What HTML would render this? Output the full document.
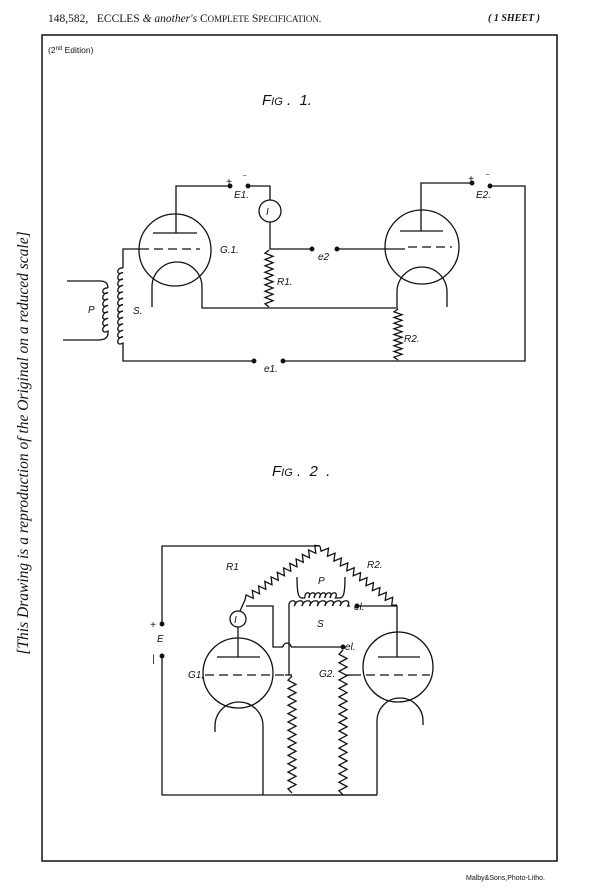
<!DOCTYPE html>
<html><head><meta charset="utf-8"><style>
html,body{margin:0;padding:0;background:#fff}
svg{display:block}
text{font-family:"Liberation Sans",sans-serif;fill:#111}
.h{font-family:"Liberation Serif",serif}
.lab{font-style:italic;font-size:10px}
</style></head><body>
<svg id="s" width="600" height="889" viewBox="0 0 600 889" xmlns="http://www.w3.org/2000/svg" fill="none" stroke="#111" stroke-width="1.3">
<text class="h" x="48" y="22" font-size="11.5" stroke="none">148,582,&#160;&#160; ECCLES <tspan font-style="italic">&amp; another's</tspan> C<tspan font-size="9">OMPLETE</tspan> S<tspan font-size="9">PECIFICATION.</tspan></text>
<text class="h" x="488" y="21" font-size="10" font-style="italic" font-weight="bold" stroke="none">( 1 SHEET )</text>
<rect x="42" y="35" width="515" height="826" stroke-width="1.5"/>
<text x="48" y="53" font-size="8.5" stroke="none">(2<tspan font-size="6" dy="-3">nd</tspan><tspan dy="3"> Edition)</tspan></text>
<text class="h" x="0" y="0" font-size="15.5" font-style="italic" stroke="none" transform="translate(28,443) rotate(-90)" text-anchor="middle">[This Drawing is a reproduction of the Original on a reduced scale]</text>
<text x="466" y="880" font-size="7" stroke="none">Malby&amp;Sons,Photo-Litho.</text>
<text x="262" y="105" font-size="15" font-style="italic" stroke="none">F<tspan font-size="11">IG</tspan> .&#160; 1.</text>
<text x="272" y="476" font-size="15" font-style="italic" stroke="none">F<tspan font-size="11">IG</tspan> .&#160; 2&#160; .</text>
<g id="d"></g>
</svg>
<script>
var d=document.getElementById('d'),h='';
function L(p){h+='<polyline points="'+p+'"/>';}
function C(x,y,r){h+='<circle cx="'+x+'" cy="'+y+'" r="'+r+'"/>';}
function dash(x1,x2,y){h+='<line x1="'+x1+'" y1="'+y+'" x2="'+x2+'" y2="'+y+'" stroke-dasharray="9,5"/>';}
function arc(cx,top,r,bot){h+='<path d="M'+(cx-r)+','+bot+' V'+(top+r)+' A'+r+','+r+' 0 0 1 '+(cx+r)+','+(top+r)+' V'+bot+'"/>';}
function zz(x1,y1,x2,y2,n,a){var dx=x2-x1,dy=y2-y1,l=Math.hypot(dx,dy),nx=-dy/l,ny=dx/l,p=x1+','+y1;for(var i=1;i<2*n;i++){var t=i/(2*n),s=(i%2?1:-1)*a;p+=' '+(x1+dx*t+nx*s).toFixed(1)+','+(y1+dy*t+ny*s).toFixed(1);}p+=' '+x2+','+y2;L(p);}
function coilV(x,y1,y2,n,dir){var st=(y2-y1)/n,p='M'+x+','+y1;for(var i=0;i<n;i++){var y=y1+i*st;p+=' C'+(x+dir*7)+','+(y-1)+' '+(x+dir*7)+','+(y+st+2)+' '+x+','+(y+st*0.7)+' ';}p+='L'+x+','+y2;h+='<path d="'+p+'"/>';}
function coilH(x1,x2,y,n,dir){var st=(x2-x1)/n,p='M'+x1+','+y;for(var i=0;i<n;i++){var x=x1+i*st;p+=' C'+(x-1)+','+(y+dir*7)+' '+(x+st+2)+','+(y+dir*7)+' '+(x+st*0.7)+','+y;}p+=' L'+x2+','+y;h+='<path d="'+p+'"/>';}
function dot(x,y){h+='<circle cx="'+x+'" cy="'+y+'" r="1.8" fill="#111"/>';}
function T(x,y,s,fs){h+='<text class="lab" x="'+x+'" y="'+y+'" stroke="none" font-size="'+(fs||10)+'">'+s+'</text>';}
/* FIG 1 */
C(175,250,36);L('153,233 197,233');L('176,233 176,186 230,186');dot(230,186);dot(248,186);L('248,186 270,186 270,200');
C(270,211,11);L('270,222 270,249 312,249');dot(312,249);dot(337,249);L('337,249 405,249');
dash(140,200,249);L('140,249 123,249 123,268');coilV(123,268,345,12,-1);L('123,345 123,361 254,361');dot(254,361);dot(283,361);L('283,361 525,361 525,186 490,186');dot(490,186);
arc(177,262,25,307);L('202,307 202,308 398,308');
zz(269,250,269,307,9,4);
C(422,247,37);L('400,231 443,231');L('421,231 421,183 472,183');dot(472,183);dash(408,452,247);
arc(422,267,25,307);zz(398,309,398,360,9,4);
h+='<path d="M67,281 H100 C106,281 108,284 108,288"/>';coilV(108,288,333,7,-1);h+='<path d="M108,333 C108,338 104,340 98,340 H63"/>';
T(226,185,'+',12);T(243,183,'‾',10);T(234,198,'E1.');T(266,215,'I',11);T(220,253,'G.1.',8);T(318,260,'e2');T(277,285,'R1.');
T(133,314,'S.');T(88,313,'P');T(404,342,'R2.');T(264,372,'e1.');T(468,182,'+',12);T(486,182,'‾',10);T(476,198,'E2.');
/* FIG 2 */
L('162,623 162,546 320,546');dot(162,624);dot(162,656);L('162,656 162,795 377,795');
zz(320,546,245,600,12,3.5);zz(320,546,397,605,12,3.5);
L('245,600 240,611');C(238,619,8);L('238,627 238,657');
C(238,673,35);L('217,657 260,657');dash(205,285,675);L('285,675 292,675');zz(292,676,292,793,14,4);
arc(239,702,24,732);L('263,732 263,795');
L('246,606 273,606 273,647 283,647');h+='<path d="M283,647 A4,4 0 0 1 291,647"/>';L('291,647 343,647');dot(343,647);
L('289,675 289,606');coilH(289,350,606,8,-1);dot(357,606);L('357,606 397,606 397,657');
h+='<path d="M297,577 C297,600 300,598 305,598 M345,577 C345,600 342,598 337,598"/>';coilH(305,337,598,6,-1);
C(398,667,35);L('378,657 420,657');dash(352,430,675);L('345,675 352,675');
zz(343,650,343,795,17,4);
arc(400,698,23,725);L('377,725 377,795');L('343,795 377,795');L('292,795 343,795');
T(226,570,'R1',8);T(367,568,'R2.',8);T(318,584,'P',9);T(317,627,'S',10);T(354,610,'el.',9);T(345,650,'el.',8);
T(188,678,'G1,',9);T(319,677,'G2.',9);T(234,623,'I',10);T(157,642,'E',9);T(150,628,'+',13);T(152,662,'|',11);
d.innerHTML=h;
</script>
</body></html>
